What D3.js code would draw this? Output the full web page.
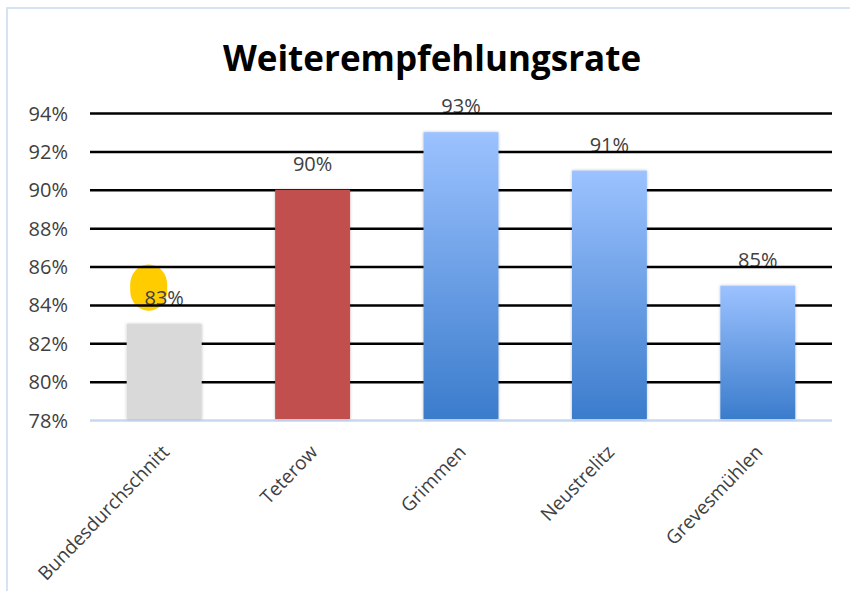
<!DOCTYPE html>
<html>
<head>
<meta charset="utf-8">
<script src="https://cdn.jsdelivr.net/npm/d3@7"></script>
<style>
    body { margin: 0; background: #fff; }
    text { font-family: "Open Sans", "Noto Sans", sans-serif; }
</style>
</head>
<body>
<div id="graph"></div>
<script>
const categories = ["Bundesdurchschnitt", "Teterow", "Grimmen", "Neustrelitz", "Grevesmühlen"];
const rates = [83, 90, 93, 91, 85];
const barFills = ["#d9d9d9", "#c0504d", "url(#blueGrad)", "url(#blueGrad)", "url(#blueGrad)"];
const yTicks = [78, 80, 82, 84, 86, 88, 90, 92, 94];

renderGraph();

function renderGraph() {
    const width = 850;
    const height = 591;
    const margin = {top: 113, bottom: 171, left: 90, right: 18};

    const svg = d3.select("#graph")
        .append("svg")
        .attr("width", width)
        .attr("height", height);

    const defs = svg.append("defs");
    const grad = defs.append("linearGradient")
        .attr("id", "blueGrad")
        .attr("x1", 0).attr("y1", 0).attr("x2", 0).attr("y2", 1);
    grad.append("stop").attr("offset", "0%").attr("stop-color", "#9cc2ff");
    grad.append("stop").attr("offset", "100%").attr("stop-color", "#3b7ccc");

    const shadow = defs.append("filter")
        .attr("id", "shadow")
        .attr("x", "-20%").attr("y", "-20%").attr("width", "140%").attr("height", "140%");
    shadow.append("feDropShadow")
        .attr("dx", 0).attr("dy", 0)
        .attr("stdDeviation", 1.5)
        .attr("flood-color", "#000")
        .attr("flood-opacity", 0.25);

    // frame of the pasted chart
    svg.append("line")
        .attr("x1", 6).attr("x2", width).attr("y1", 8).attr("y2", 8)
        .attr("stroke", "#d6e3f3").attr("stroke-width", 2);
    svg.append("line")
        .attr("x1", 7).attr("x2", 7).attr("y1", 8).attr("y2", height)
        .attr("stroke", "#d6e3f3").attr("stroke-width", 2);

    svg.append("text")
        .attr("x", 432)
        .attr("y", 71)
        .attr("text-anchor", "middle")
        .attr("font-size", "35px")
        .attr("font-weight", "bold")
        .attr("fill", "#000")
        .text("Weiterempfehlungsrate");

    const x = d3.scaleBand()
        .domain(categories)
        .range([margin.left, width - margin.right])
        .paddingInner(0.495)
        .paddingOuter(0.2475);

    const y = d3.scaleLinear()
        .domain([78, 94])
        .range([height - margin.bottom, margin.top]);

    // yellow highlight marker behind the first label
    const first = categories[0];
    svg.append("rect")
        .attr("x", x(first) + x.bandwidth() / 2 - 34)
        .attr("y", y(86.1))
        .attr("width", 37)
        .attr("height", y(83.7) - y(86.1))
        .attr("rx", 18).attr("ry", 20)
        .attr("fill", "#ffcc00");

    // value labels
    svg.append("g")
        .selectAll("text")
        .data(rates)
        .join("text")
          .attr("x", (d, i) => x(categories[i]) + x.bandwidth() / 2)
          .attr("y", d => y(d) - 19)
          .attr("text-anchor", "middle")
          .attr("font-size", "20px")
          .attr("fill", "#404040")
          .text(d => d + "%");

    function yAxis(g) {
        g.attr("transform", `translate(${margin.left}, 0)`)
         .call(d3.axisLeft(y).tickValues(yTicks).tickFormat(d => d + "%")
               .tickSize(-(width - margin.left - margin.right)).tickPadding(22));
        g.select(".domain").remove();
        g.selectAll(".tick line")
         .attr("stroke", d => d === 78 ? "#c6d9f0" : "#000")
         .attr("stroke-width", 2.5);
        g.selectAll(".tick text")
         .attr("font-size", "20px")
         .attr("fill", "#404040")
         .attr("dy", "0.35em");
    }
    svg.append("g").call(yAxis);

    svg.append("g")
        .selectAll("rect")
        .data(rates)
        .join("rect")
          .attr("x", (d, i) => x(categories[i]))
          .attr("y", d => y(d))
          .attr("width", x.bandwidth())
          .attr("height", d => y(78) - y(d) - 1)
          .attr("fill", (d, i) => barFills[i])
          .attr("filter", "url(#shadow)");

    function xAxis(g) {
        g.attr("transform", `translate(0, ${height - margin.bottom})`)
         .call(d3.axisBottom(x).tickSize(0));
        g.select(".domain").remove();
        g.selectAll(".tick text")
         .attr("font-size", "19px")
         .attr("fill", "#404040")
         .attr("text-anchor", "end")
         .attr("dy", 0)
         .attr("transform", "translate(4, 31) rotate(-46)");
    }
    svg.append("g").call(xAxis);
}
</script>
</body>
</html>
